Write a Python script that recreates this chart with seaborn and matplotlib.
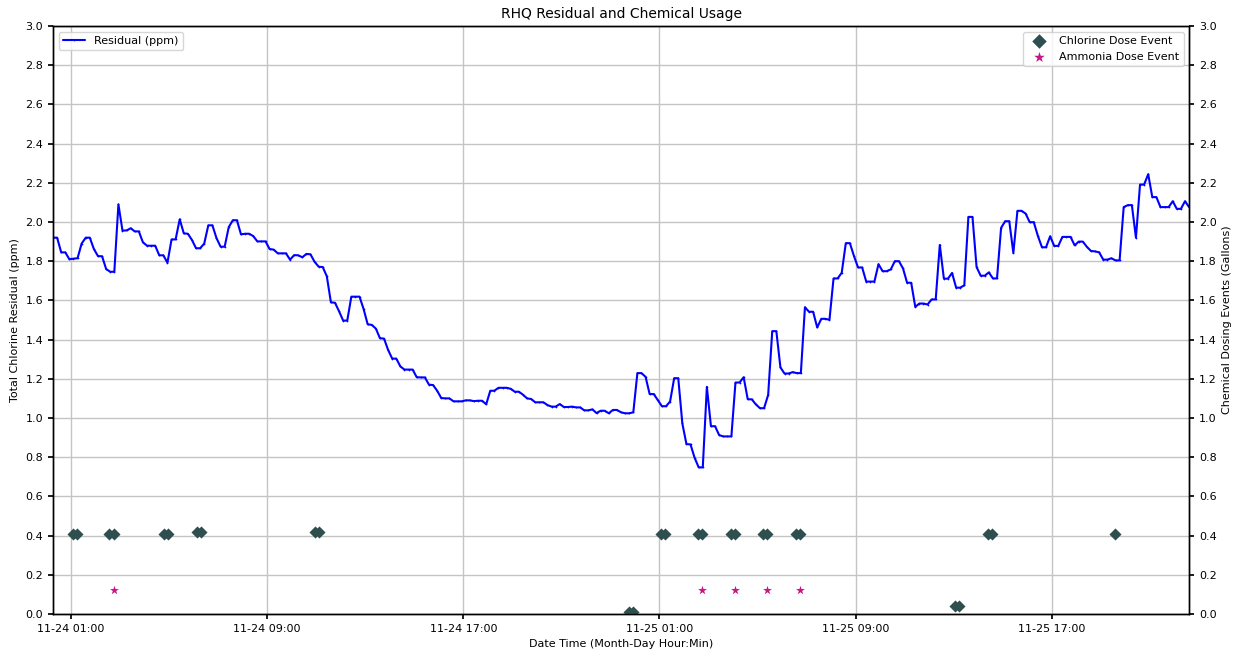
import matplotlib
matplotlib.use('Agg')
from matplotlib import pyplot as plt
import matplotlib.dates as mdates
import pandas as pd
import seaborn as sns

# residual readings, every 10 minutes from 11-24 00:16
residual = [
    1.92, 1.92, 1.845, 1.845, 1.81, 1.813, 1.815, 1.89, 1.92, 1.92,
    1.862, 1.826, 1.825, 1.76, 1.746, 1.746, 2.09, 1.956, 1.957, 1.968,
    1.952, 1.952, 1.896, 1.879, 1.879, 1.879, 1.83, 1.83, 1.792, 1.911,
    1.911, 2.014, 1.942, 1.94, 1.908, 1.866, 1.866, 1.89, 1.983, 1.983,
    1.918, 1.874, 1.874, 1.974, 2.009, 2.009, 1.937, 1.94, 1.94, 1.928,
    1.901, 1.901, 1.901, 1.862, 1.859, 1.84, 1.84, 1.84, 1.808, 1.831,
    1.83, 1.82, 1.837, 1.835, 1.797, 1.772, 1.77, 1.723, 1.59, 1.588,
    1.544, 1.497, 1.497, 1.619, 1.619, 1.619, 1.556, 1.478, 1.475, 1.456,
    1.407, 1.405, 1.347, 1.303, 1.303, 1.263, 1.247, 1.247, 1.247, 1.208,
    1.207, 1.207, 1.17, 1.168, 1.139, 1.102, 1.10, 1.10, 1.085, 1.085,
    1.085, 1.09, 1.09, 1.086, 1.088, 1.088, 1.07, 1.139, 1.139, 1.154,
    1.154, 1.154, 1.149, 1.134, 1.134, 1.119, 1.10, 1.097, 1.08, 1.08,
    1.08, 1.066, 1.058, 1.058, 1.071, 1.056, 1.056, 1.058, 1.054, 1.054,
    1.039, 1.039, 1.044, 1.025, 1.037, 1.037, 1.024, 1.041, 1.041, 1.029,
    1.024, 1.024, 1.029, 1.229, 1.229, 1.21, 1.122, 1.122, 1.091, 1.06,
    1.06, 1.084, 1.203, 1.203, 0.972, 0.867, 0.865, 0.797, 0.748, 0.748,
    1.159, 0.958, 0.958, 0.913, 0.906, 0.906, 0.906, 1.181, 1.181, 1.208,
    1.096, 1.095, 1.069, 1.05, 1.05, 1.118, 1.443, 1.443, 1.258, 1.227,
    1.227, 1.234, 1.229, 1.229, 1.565, 1.542, 1.542, 1.462, 1.506, 1.506,
    1.501, 1.712, 1.712, 1.741, 1.892, 1.892, 1.826, 1.768, 1.768, 1.696,
    1.696, 1.696, 1.785, 1.749, 1.749, 1.758, 1.80, 1.80, 1.763, 1.69,
    1.69, 1.567, 1.584, 1.584, 1.579, 1.605, 1.605, 1.883, 1.711, 1.711,
    1.74, 1.665, 1.665, 1.677, 2.026, 2.026, 1.77, 1.726, 1.726, 1.743,
    1.712, 1.712, 1.97, 2.004, 2.004, 1.842, 2.057, 2.057, 2.043, 1.999,
    1.999, 1.929, 1.871, 1.871, 1.927, 1.878, 1.878, 1.924, 1.924, 1.924,
    1.881, 1.90, 1.90, 1.873, 1.852, 1.85, 1.845, 1.808, 1.808, 1.815,
    1.804, 1.804, 2.076, 2.086, 2.086, 1.92, 2.191, 2.191, 2.244, 2.127,
    2.127, 2.076, 2.076, 2.076, 2.106, 2.067, 2.067, 2.106, 2.076,
]
times = pd.date_range('2019-11-24 00:16', periods=len(residual), freq='10min')

chlorine_times = [
    '2019-11-24 01:04', '2019-11-24 01:14', '2019-11-24 02:34', '2019-11-24 02:44',
    '2019-11-24 04:48', '2019-11-24 04:58', '2019-11-24 06:08', '2019-11-24 06:18',
    '2019-11-24 10:56', '2019-11-24 11:06', '2019-11-24 23:46', '2019-11-24 23:55',
    '2019-11-25 01:04', '2019-11-25 01:14', '2019-11-25 02:34', '2019-11-25 02:44',
    '2019-11-25 03:54', '2019-11-25 04:04', '2019-11-25 05:14', '2019-11-25 05:24',
    '2019-11-25 06:34', '2019-11-25 06:44', '2019-11-25 13:04', '2019-11-25 13:14',
    '2019-11-25 14:24', '2019-11-25 14:34', '2019-11-25 19:34',
]
chlorine_gal = [
    0.41, 0.41, 0.41, 0.41, 0.41, 0.41, 0.42, 0.42, 0.42, 0.42, 0.01, 0.01,
    0.41, 0.41, 0.41, 0.41, 0.41, 0.41, 0.41, 0.41, 0.41, 0.41, 0.04, 0.04,
    0.41, 0.41, 0.41,
]
ammonia_times = ['2019-11-24 02:44', '2019-11-25 02:44', '2019-11-25 04:04',
                 '2019-11-25 05:24', '2019-11-25 06:44']
ammonia_gal = [0.12, 0.12, 0.12, 0.12, 0.12]

yticks = [i / 5 for i in range(16)]

sns.set_theme(style='whitegrid', rc={
    'axes.edgecolor': 'black', 'axes.linewidth': 1.0,
    'grid.color': '#c4c4c4', 'grid.linewidth': 1.0,
    'xtick.bottom': True, 'ytick.left': True,
    'xtick.color': 'black', 'ytick.color': 'black',
    'text.color': 'black', 'axes.labelcolor': 'black',
    'xtick.major.size': 3.5, 'ytick.major.size': 3.5,
    'xtick.labelsize': 8, 'ytick.labelsize': 8,
    'axes.labelsize': 8, 'axes.titlesize': 10, 'legend.fontsize': 8,
})
plt.rcParams['font.family'] = ['DejaVu Sans']

fig, ax1 = plt.subplots(figsize=(12.39, 6.5), dpi=100)
fig.subplots_adjust(left=0.0428, right=0.9597, top=0.96, bottom=0.0554)

sns.lineplot(x=times, y=residual, ax=ax1, color='blue', linewidth=1.5,
             marker='.', markersize=2.5, markeredgewidth=0,
             label='Residual (ppm)')
ax1.set_ylim(0, 3.0)
ax1.set_yticks(yticks)
ax1.set_ylabel('Total Chlorine Residual (ppm)')
ax1.set_xlabel('Date Time (Month-Day Hour:Min)')
ax1.set_title('RHQ Residual and Chemical Usage')
ax1.legend(loc='upper left')

ax2 = ax1.twinx()
sns.scatterplot(x=pd.to_datetime(chlorine_times), y=chlorine_gal, ax=ax2,
                marker='D', s=38, color='darkslategray', linewidth=0,
                label='Chlorine Dose Event')
sns.scatterplot(x=pd.to_datetime(ammonia_times), y=ammonia_gal, ax=ax2,
                marker='*', s=45, color='#c71585', linewidth=0,
                label='Ammonia Dose Event')
ax2.set_ylim(0, 3.0)
ax2.set_yticks(yticks)
ax2.grid(False)
ax2.set_ylabel('Chemical Dosing Events (Gallons)')
ax2.legend(loc='upper right', markerscale=1.2)

ax1.set_xlim(times[0], times[-1])
ax1.xaxis.set_major_locator(mdates.HourLocator(byhour=[1, 9, 17]))
ax1.xaxis.set_major_formatter(mdates.DateFormatter('%m-%d %H:%M'))

fig.savefig('out.png', dpi=100)
